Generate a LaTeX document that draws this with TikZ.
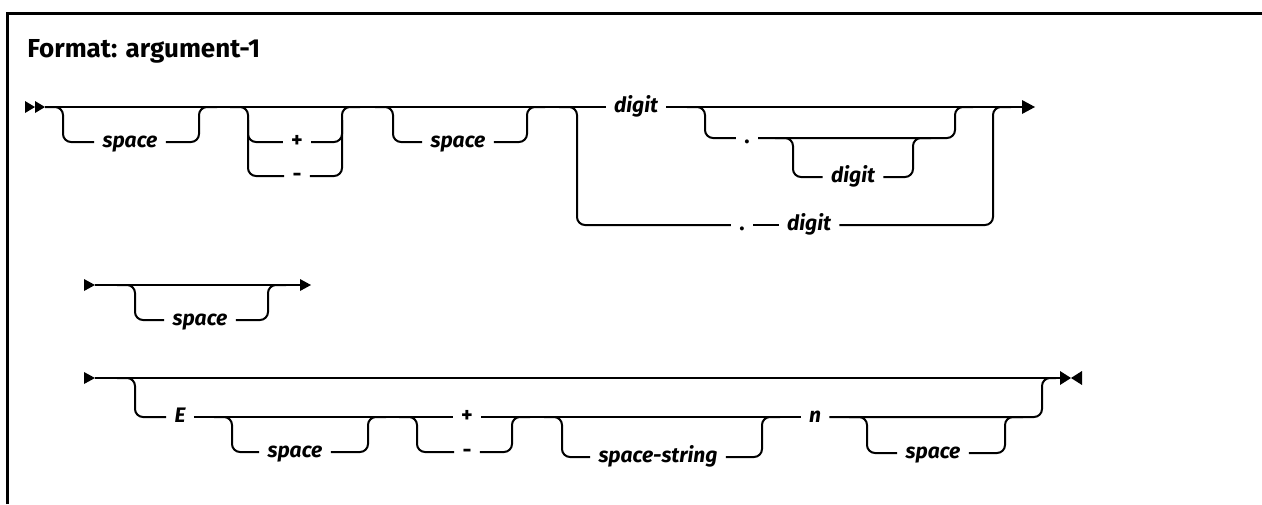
\documentclass[tikz,border=0pt]{standalone}
\usepackage{fontspec}
\setmainfont{Fira Sans}
\begin{document}
\begin{tikzpicture}[x=0.5pt,y=-0.5pt,
  track/.style={line width=1pt, rounded corners=4pt},
  lbl/.style={font=\fontsize{10.5}{12}\selectfont\bfseries\itshape, inner xsep=4pt, inner ysep=0pt, text height=5.6pt, text depth=0pt},
  sym/.style={font=\fontsize{11}{12}\selectfont\bfseries, inner xsep=4pt, inner ysep=0pt, text height=5.6pt, text depth=0pt},
  tip/.style={fill=black}]
\useasboundingbox (0,0) rectangle (1262,504);
% frame
\draw[line width=1.5pt] (7,504) -- (7,13) -- (1270,13);
\node[anchor=base west, inner sep=0pt, font=\fontsize{13}{15}\selectfont\bfseries] (title) at (27,57) {Format: argument-1};

% ---------------- Row 1 ----------------
\node[lbl] (sp1) at (130,142) {space};
\node[sym] (plus1) at (297,142) {+};
\node[sym] (minus1) at (297,176) {-};
\node[lbl] (sp2) at (458,142) {space};
\node[lbl] (digA) at (636,107) {digit};
\node[sym] (dot1) at (747,138) {.};
\node[lbl] (digB) at (853,177) {digit};
\node[sym] (dot2) at (742,225) {.};
\node[lbl] (digC) at (809,225) {digit};
\coordinate (r1s) at (45,107);
\coordinate (r1e) at (1022,107);
\fill[tip] (25,101) -- (35,107) -- (25,113) -- cycle;
\fill[tip] (35,101) -- (45,107) -- (35,113) -- cycle;
\draw[track] (r1s) -- (digA.west);
\draw[track] (digA.east) -- (r1e);
\fill[tip] (1022,100) -- (1035,107) -- (1022,114) -- cycle;
% optional space
\draw[track] (45,107) -- (63,107) -- (63,142) -- (sp1.west);
\draw[track] (sp1.east) -- (199,142) -- (199,107) -- (217,107);
% + / -
\draw[track] (230,107) -- (248,107) -- (248,142) -- (plus1.west);
\draw[track] (248,120) -- (248,176) -- (minus1.west);
\draw[track] (plus1.east) -- (342,142) -- (342,107) -- (360,107);
\draw[track] (minus1.east) -- (342,176) -- (342,120);
% optional space
\draw[track] (375,107) -- (393,107) -- (393,142) -- (sp2.west);
\draw[track] (sp2.east) -- (527,142) -- (527,107) -- (545,107);
% . digit alternative
\draw[track] (559,107) -- (577,107) -- (577,225) -- (dot2.west);
\draw[track] (dot2.east) -- (digC.west);
\draw[track] (digC.east) -- (993,225) -- (993,107) -- (1011,107);
% optional . [digit]
\draw[track] (687,107) -- (705,107) -- (705,138) -- (dot1.west);
\draw[track] (dot1.east) -- (955,138) -- (955,107) -- (973,107);
\draw[track] (775,138) -- (793,138) -- (793,177) -- (digB.west);
\draw[track] (digB.east) -- (913,177) -- (913,138) -- (931,138);

% ---------------- Row 2 ----------------
\node[lbl] (sp3) at (200,320) {space};
\coordinate (r2s) at (95,285);
\coordinate (r2e) at (300,285);
\fill[tip] (84,279) -- (95,285) -- (84,291) -- cycle;
\draw[track] (r2s) -- (r2e);
\fill[tip] (300,279) -- (311,285) -- (300,291) -- cycle;
\draw[track] (117,285) -- (135,285) -- (135,320) -- (sp3.west);
\draw[track] (sp3.east) -- (268,320) -- (268,285) -- (286,285);

% ---------------- Row 3 ----------------
\node[lbl] (E) at (180,417) {E};
\node[lbl] (sp4) at (295,452) {space};
\node[sym] (plus2) at (467,417) {+};
\node[sym] (minus2) at (467,452) {-};
\node[lbl] (sps) at (658,457) {space-string};
\node[lbl] (n) at (815,417) {n};
\node[lbl] (sp5) at (933,453) {space};
\coordinate (r3s) at (95,378);
\coordinate (r3e) at (1060,378);
\fill[tip] (84,372) -- (95,378) -- (84,384) -- cycle;
\draw[track] (r3s) -- (r3e);
\fill[tip] (1060,371) -- (1071,378) -- (1060,385) -- cycle;
\fill[tip] (1082,371) -- (1071,378) -- (1082,385) -- cycle;
% E branch
\draw[track] (117,378) -- (135,378) -- (135,417) -- (E.west);
\draw[track] (E.east) -- (plus2.west);
\draw[track] (plus2.east) -- (n.west);
\draw[track] (n.east) -- (1042,417) -- (1042,378) -- (1056,378);
% optional space
\draw[track] (214,417) -- (232,417) -- (232,452) -- (sp4.west);
\draw[track] (sp4.east) -- (368,452) -- (368,417) -- (386,417);
% + / -
\draw[track] (399,417) -- (417,417) -- (417,452) -- (minus2.west);
\draw[track] (minus2.east) -- (512,452) -- (512,417) -- (530,417);
% optional space-string
\draw[track] (544,417) -- (562,417) -- (562,457) -- (sps.west);
\draw[track] (sps.east) -- (762,457) -- (762,417) -- (780,417);
% optional space
\draw[track] (849,417) -- (867,417) -- (867,453) -- (sp5.west);
\draw[track] (sp5.east) -- (1005,453) -- (1005,417) -- (1023,417);
\end{tikzpicture}
\end{document}
